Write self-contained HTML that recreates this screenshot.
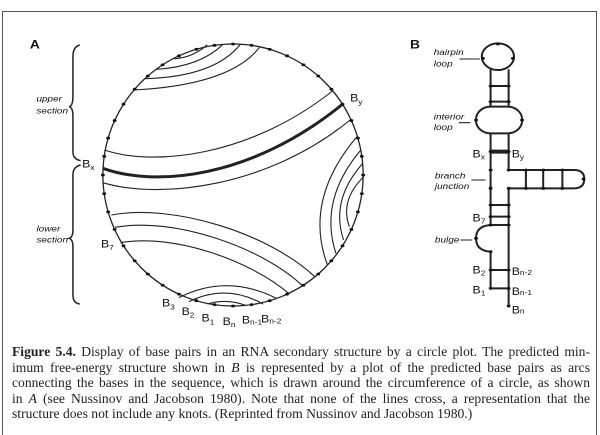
<!DOCTYPE html>
<html><head><meta charset="utf-8"><style>
html,body{margin:0;padding:0;background:#fff;width:600px;height:435px;overflow:hidden;position:relative}
#box{position:absolute;left:2px;top:11px;width:595px;height:430px;border:1px solid #555;box-sizing:border-box}
#cap{position:absolute;left:12px;top:344px;width:578px;font-family:"Liberation Serif",serif;font-size:13.6px;line-height:15.5px;color:#222}
#cap div{text-align:justify;text-align-last:justify;white-space:nowrap}
#cap div.l{text-align-last:left}
svg{position:absolute;left:0;top:0}
</style></head><body>
<div id="box"></div>
<svg width="600" height="330" viewBox="0 0 1563 990" preserveAspectRatio="none">
<g fill="none" stroke="#222" stroke-width="1.1" vector-effect="non-scaling-stroke">
<ellipse cx="607" cy="525" rx="339" ry="393" vector-effect="non-scaling-stroke" stroke-width="1.3"/>
<path vector-effect="non-scaling-stroke" d="M450,176 Q500,175 540,134"/>
<path vector-effect="non-scaling-stroke" d="M407,208 Q520,200 580,134"/>
<path vector-effect="non-scaling-stroke" d="M378,236 Q560,230 627,132"/>
<path vector-effect="non-scaling-stroke" d="M348,270 Q600,255 676,142"/>
<path vector-effect="non-scaling-stroke" d="M272,450 C400,500 650,470 866,273"/>
<path vector-effect="non-scaling-stroke" stroke-width="3" d="M268,505 C400,560 650,540 893,312"/>
<path vector-effect="non-scaling-stroke" d="M268,548 C420,600 700,560 912,360"/>
<path vector-effect="non-scaling-stroke" d="M853,795 Q790,600 930,410"/>
<path vector-effect="non-scaling-stroke" d="M875,760 Q830,600 940,450"/>
<path vector-effect="non-scaling-stroke" d="M895,720 Q860,600 945,490"/>
<path vector-effect="non-scaling-stroke" d="M910,680 Q885,600 948,530"/>
<path vector-effect="non-scaling-stroke" d="M290,645 C450,610 700,700 820,830"/>
<path vector-effect="non-scaling-stroke" d="M300,682 C450,650 680,740 788,857"/>
<path vector-effect="non-scaling-stroke" d="M314,728 C450,700 650,780 752,880"/>
<path vector-effect="non-scaling-stroke" d="M466,893 Q590,820 720,895"/>
<path vector-effect="non-scaling-stroke" d="M492,905 Q590,850 685,912"/>
<path vector-effect="non-scaling-stroke" d="M540,912 Q590,895 640,916"/>
<path vector-effect="non-scaling-stroke" stroke-width="1.5" d="M208,135 Q190,140 190,170 L190,290 Q190,318 180,320 Q190,322 190,350 L190,455 Q190,478 210,482"/>
<path vector-effect="non-scaling-stroke" stroke-width="1.5" d="M210,495 Q190,500 190,525 L190,690 Q190,712 180,715 Q190,718 190,740 L190,885 Q190,910 208,912"/>
<g stroke-width="2">
<ellipse vector-effect="non-scaling-stroke" cx="1297" cy="170" rx="42" ry="40"/>
<path vector-effect="non-scaling-stroke" d="M1278,208 V320 M1325,208 V320 M1278,258 H1325 M1278,305 H1325"/>
<rect vector-effect="non-scaling-stroke" x="1240" y="320" width="120" height="80" rx="38" ry="38"/>
<path vector-effect="non-scaling-stroke" d="M1278,400 V675 M1325,400 V510 M1325,565 V918 M1278,755 V865 M1278,865 H1325 M1278,810 H1325 M1278,615 H1325 M1278,650 H1325 M1278,675 H1325"/>
<path vector-effect="non-scaling-stroke" stroke-width="4" d="M1278,455 H1325"/>
<path vector-effect="non-scaling-stroke" d="M1325,510 H1495 Q1522,510 1522,537 Q1522,565 1495,565 H1325 M1370,510 V565 M1415,510 V565 M1465,510 V565"/>
<path vector-effect="non-scaling-stroke" d="M1278,675 Q1240,678 1240,715 Q1240,752 1278,755"/>
</g>
<path vector-effect="non-scaling-stroke" d="M1197,177 H1250 M1195,368 H1225 M1228,540 H1265 M1200,720 H1230"/>
</g>
<g id="dots" fill="#111"></g>
<g fill="#111" font-family="Liberation Sans,sans-serif" font-size="32">
<text x="78" y="145" font-weight="bold" font-size="36">A</text>
<text x="1068" y="145" font-weight="bold" font-size="36">B</text>
<g font-style="italic" font-size="26">
<text x="95" y="305">upper</text><text x="95" y="340">section</text>
<text x="95" y="695">lower</text><text x="95" y="728">section</text>
<text x="1130" y="165">hairpin</text><text x="1130" y="200">loop</text>
<text x="1130" y="358">interior</text><text x="1130" y="390">loop</text>
<text x="1133" y="535">branch</text><text x="1133" y="567">junction</text>
<text x="1133" y="727">bulge</text>
</g>
<text x="214" y="502">B<tspan font-size="22" dy="8">x</tspan></text>
<text x="912" y="305">B<tspan font-size="22" dy="8">y</tspan></text>
<text x="263" y="742">B<tspan font-size="22" dy="8">7</tspan></text>
<text x="422" y="920">B<tspan font-size="22" dy="8">3</tspan></text>
<text x="473" y="945">B<tspan font-size="22" dy="8">2</tspan></text>
<text x="525" y="965">B<tspan font-size="22" dy="8">1</tspan></text>
<text x="580" y="975">B<tspan font-size="22" dy="6">n</tspan></text>
<text x="630" y="970">B<tspan font-size="22" dy="4">n-1</tspan></text>
<text x="680" y="968">B<tspan font-size="22" dy="2">n-2</tspan></text>
<text x="1231" y="472">B<tspan font-size="22" dy="6">x</tspan></text>
<text x="1333" y="472">B<tspan font-size="22" dy="6">y</tspan></text>
<text x="1231" y="665">B<tspan font-size="22" dy="6">7</tspan></text>
<text x="1231" y="820">B<tspan font-size="22" dy="6">2</tspan></text>
<text x="1333" y="825">B<tspan font-size="22" dy="0">n-2</tspan></text>
<text x="1231" y="880">B<tspan font-size="22" dy="6">1</tspan></text>
<text x="1333" y="885">B<tspan font-size="22" dy="0">n-1</tspan></text>
<text x="1333" y="940">B<tspan font-size="22" dy="0">n</tspan></text>
</g>
</svg>
<div id="cap">
<div><b>Figure 5.4.</b> Display of base pairs in an RNA secondary structure by a circle plot. The predicted min-</div>
<div>imum free-energy structure shown in <i>B</i> is represented by a plot of the predicted base pairs as arcs</div>
<div>connecting the bases in the sequence, which is drawn around the circumference of a circle, as shown</div>
<div>in <i>A</i> (see Nussinov and Jacobson 1980). Note that none of the lines cross, a representation that the</div>
<div class="l">structure does not include any knots. (Reprinted from Nussinov and Jacobson 1980.)</div>
</div>
<script>
var g=document.getElementById('dots'),s='';
for(var i=0;i<44;i++){var a=i/44*2*Math.PI;var x=607+339*Math.cos(a),y=525+393*Math.sin(a);
s+='<ellipse cx="'+x.toFixed(1)+'" cy="'+y.toFixed(1)+'" rx="5" ry="4.3"/>';}
var pts=[[1278,258],[1325,258],[1278,305],[1325,305],[1278,455],[1325,455],[1278,510],[1325,510],[1278,565],[1325,565],[1370,510],[1415,510],[1465,510],[1370,565],[1415,565],[1465,565],[1520,537],[1278,615],[1325,615],[1278,650],[1325,650],[1278,675],[1325,675],[1278,810],[1325,810],[1278,865],[1325,865],[1325,918],[1297,132],[1258,175],[1336,175],[1240,360],[1360,360],[1278,755],[1240,715]];
pts.forEach(function(p){s+='<ellipse cx="'+p[0]+'" cy="'+p[1]+'" rx="5" ry="4.3"/>';});
g.innerHTML=s;
</script>
</body></html>
